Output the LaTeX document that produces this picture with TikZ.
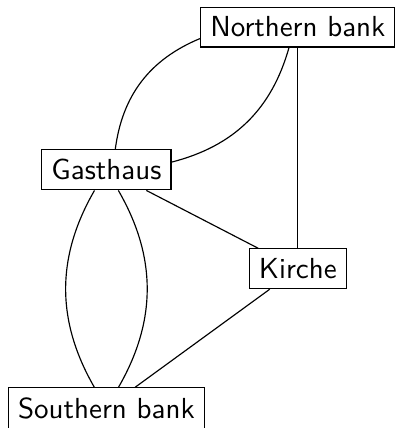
\documentclass[tikz,border=0pt]{standalone}
\usepackage{tikz}
\usetikzlibrary{positioning,calc}
\tikzset{
  placebox/.style={
    rectangle, draw=black, fill=white,
    text centered, font=\sffamily
  },
  bridge/.style={draw=black, thin}
}

\begin{document}
\begin{tikzpicture}
  \useasboundingbox (0,0) rectangle (4.776,5.188);
  \node[placebox] (north) at (3.61,4.86) {Northern bank};
  \node[placebox] (gast) at (1.29,3.13) {Gasthaus};
  \node[placebox] (kirche) at (3.61,1.93) {Kirche};
  \node[placebox] (south) at (1.29,0.24) {Southern bank};
  \draw[bridge] (gast) to[bend left] (north);
  \draw[bridge] (gast) to[bend right] (north);
  \draw[bridge] (north) -- (kirche);
  \draw[bridge] (gast) -- (kirche);
  \draw[bridge] (gast) to[bend left] (south);
  \draw[bridge] (gast) to[bend right] (south);
  \draw[bridge] (kirche) -- (south);
\end{tikzpicture}
\end{document}
